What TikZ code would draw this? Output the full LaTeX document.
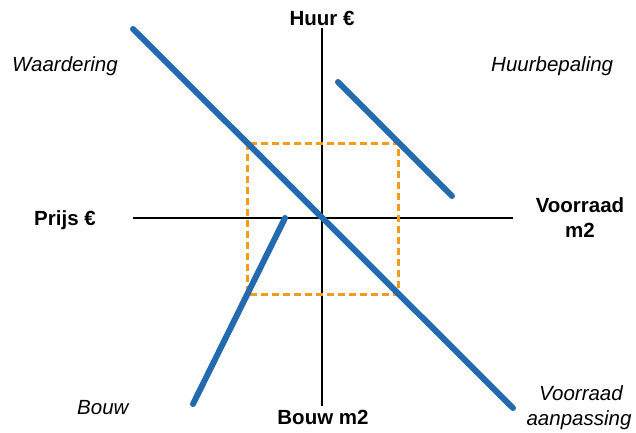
\documentclass[tikz,border=0pt]{standalone}
\usepackage{fontspec}
\setmainfont{Liberation Sans}
\begin{document}
\begin{tikzpicture}[x=1pt,y=-1pt,
  axis/.style={draw=black,line width=2.5pt},
  curve/.style={draw=curveblue,line width=6pt,line cap=round},
  guide/.style={draw=guideorange,line width=3pt,dash pattern=on 7pt off 4pt},
  axislabel/.style={inner sep=0pt,anchor=base,font=\fontsize{20.5}{25}\selectfont\bfseries},
  quadlabel/.style={inner sep=0pt,anchor=base,font=\fontsize{20.5}{25}\selectfont\itshape}]
\definecolor{curveblue}{RGB}{36,106,174}
\definecolor{guideorange}{RGB}{242,156,30}
\useasboundingbox (0,0) rectangle (636,432);

% axes
\coordinate (ytop) at (322,28);
\coordinate (ybot) at (322,406);
\coordinate (xleft) at (133,218);
\coordinate (xright) at (513,218);
\draw[axis] (ytop) -- (ybot);
\draw[axis] (xleft) -- (xright);

% equilibrium rectangle
\coordinate (r1) at (247,143);
\coordinate (r2) at (398,294);
\draw[guide] (r1) rectangle (r2);

% curves
\coordinate (w1) at (133,29);
\coordinate (w2) at (513,408);
\coordinate (h1) at (338,82);
\coordinate (h2) at (452,196);
\coordinate (b1) at (285,218);
\coordinate (b2) at (193,404);
\draw[curve] (w1) -- (w2);
\draw[curve] (h1) -- (h2);
\draw[curve] (b1) -- (b2);

% axis labels
\node[axislabel] (huur) at (322,25) {Huur €};
\node[axislabel] (prijs) at (65,225) {Prijs €};
\node[axislabel] (voorraad) at (580,212) {Voorraad};
\node[axislabel] (vm2) at (580,237) {m2};
\node[axislabel] (bouwm2) at (323,424) {Bouw m2};

% quadrant labels
\node[quadlabel,anchor=base west] (waard) at (12,71.5) {Waardering};
\node[quadlabel,anchor=base west] (huurbep) at (491,71.5) {Huurbepaling};
\node[quadlabel,anchor=base west] (bouw) at (77,414) {Bouw};
\node[quadlabel] (vaanp1) at (581,400) {Voorraad};
\node[quadlabel] (vaanp2) at (579,425) {aanpassing};
\end{tikzpicture}
\end{document}
